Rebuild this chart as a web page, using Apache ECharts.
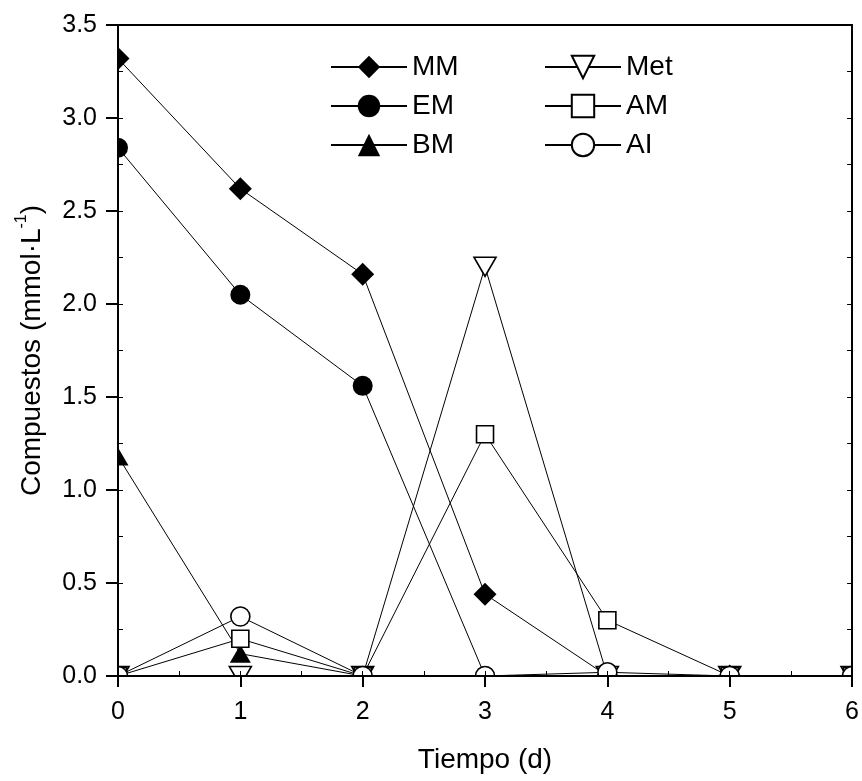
<!DOCTYPE html>
<html>
<head>
<meta charset="utf-8">
<script src="https://cdn.jsdelivr.net/npm/echarts@6/dist/echarts.min.js"></script>
<style>
  html, body { margin: 0; padding: 0; background: #fff; }
  #chart { width: 862px; height: 781px; }
</style>
</head>
<body>
<div id="chart"></div>
<script>
// Sampling days
var days = [0, 1, 2, 3, 4, 5, 6];

// Concentrations (mmol·L-1) per compound
var mm  = [3.32, 2.62, 2.16, 0.44, 0, 0, 0];
var em  = [2.84, 2.05, 1.56, 0, 0, 0, 0];
var bm  = [1.18, 0.12, 0, 0, 0, 0, 0];
var met = [0, 0, 0, 2.20, 0, 0, 0];
var am  = [0, 0.20, 0, 1.30, 0.30, 0, 0];
var ai  = [0, 0.32, 0, 0, 0.02, 0, 0];

var yTicks = ['0.0', '0.5', '1.0', '1.5', '2.0', '2.5', '3.0', '3.5'];

var FONT = 'Liberation Sans';

function pairs(vals) {
  return days.map(function (d, i) { return [d, vals[i]]; });
}

function series(name, vals, symbol, size, filled, rotate) {
  return {
    name: name,
    type: 'line',
    data: pairs(vals),
    xAxisIndex: 0,
    yAxisIndex: 0,
    z: 2,
    symbol: symbol,
    symbolSize: size,
    symbolRotate: rotate || 0,
    showAllSymbol: true,
    lineStyle: { color: '#000', width: 1 },
    itemStyle: filled
      ? { color: '#000', borderColor: '#000', borderWidth: 0 }
      : { color: '#fff', borderColor: '#000', borderWidth: 1.6 },
    emphasis: { disabled: true },
    animation: false
  };
}

var chart = echarts.init(document.getElementById('chart'));

var W = 862, H = 781;
var gridL = 118, gridR = 9, gridT = 25, gridB = 105;
var AXZ = 20; // frame, ticks and labels sit above the edge mask

var legendText = { fontFamily: FONT, fontSize: 28, lineHeight: 28, color: '#000' };

// white margins around the plot frame, so markers on the edges are trimmed
function frameMask(params) {
  var c = params.coordSys;
  return {
    type: 'group',
    children: [
      { type: 'rect', shape: { x: 0, y: 0, width: c.x, height: H }, style: { fill: '#fff' } },
      { type: 'rect', shape: { x: 0, y: c.y + c.height, width: W, height: H - c.y - c.height }, style: { fill: '#fff' } },
      { type: 'rect', shape: { x: 0, y: 0, width: W, height: c.y }, style: { fill: '#fff' } },
      { type: 'rect', shape: { x: c.x + c.width, y: 0, width: W - c.x - c.width, height: H }, style: { fill: '#fff' } }
    ]
  };
}

var option = {
  backgroundColor: '#fff',
  animation: false,
  grid: { left: gridL, right: gridR, top: gridT, bottom: gridB, show: false },
  legend: [
    {
      data: ['MM', 'EM', 'BM'],
      orient: 'vertical',
      left: 325, top: 48,
      itemWidth: 76, itemHeight: 28, itemGap: 11,
      textStyle: legendText,
      selectedMode: false
    },
    {
      data: ['Met', 'AM', 'AI'],
      orient: 'vertical',
      left: 539, top: 48,
      itemWidth: 76, itemHeight: 28, itemGap: 11,
      textStyle: legendText,
      selectedMode: false
    }
  ],
  xAxis: [
    {
      type: 'value', position: 'bottom', z: AXZ,
      min: 0, max: 6, interval: 1,
      name: 'Tiempo (d)', nameLocation: 'middle', nameGap: 70,
      nameTextStyle: { fontFamily: FONT, fontSize: 28, color: '#000' },
      axisLine: { show: true, onZero: false, lineStyle: { color: '#000', width: 2 } },
      axisTick: { show: true, inside: false, length: 11, lineStyle: { color: '#000', width: 2 } },
      axisLabel: { margin: 24, fontFamily: FONT, fontSize: 25, color: '#000' },
      splitLine: { show: false }
    },
    {
      type: 'value', position: 'bottom', z: AXZ,
      min: 0, max: 6, interval: 0.5,
      axisLine: { show: false, onZero: false },
      axisTick: { show: true, inside: true, length: 5, lineStyle: { color: '#000', width: 1 } },
      axisLabel: { show: false },
      splitLine: { show: false }
    },
    {
      type: 'value', position: 'top', z: AXZ,
      min: 0, max: 6, interval: 1,
      axisLine: { show: true, onZero: false, lineStyle: { color: '#000', width: 2 } },
      axisTick: { show: false },
      axisLabel: { show: false },
      splitLine: { show: false }
    }
  ],
  yAxis: [
    {
      type: 'value', position: 'left', z: AXZ,
      min: 0, max: 3.5, interval: 0.5,
      name: '{a|Compuestos (mmol·L}{s|-1}{a|)}',
      nameLocation: 'middle', nameGap: 72, nameRotate: 90,
      nameTextStyle: {
        fontFamily: FONT, fontSize: 28, color: '#000',
        rich: {
          a: { fontFamily: FONT, fontSize: 28, color: '#000', lineHeight: 32, verticalAlign: 'bottom' },
          s: { fontFamily: FONT, fontSize: 16, color: '#000', lineHeight: 32, verticalAlign: 'top' }
        }
      },
      axisLine: { show: true, onZero: false, lineStyle: { color: '#000', width: 2 } },
      axisTick: { show: true, inside: false, length: 12, lineStyle: { color: '#000', width: 2 } },
      axisLabel: {
        margin: 21, fontFamily: FONT, fontSize: 25, color: '#000',
        formatter: function (v) { return yTicks[Math.round(v / 0.5)]; }
      },
      splitLine: { show: false }
    },
    {
      type: 'value', position: 'left', z: AXZ,
      min: 0, max: 3.5, interval: 0.25,
      axisLine: { show: false, onZero: false },
      axisTick: { show: true, inside: true, length: 5, lineStyle: { color: '#000', width: 1 } },
      axisLabel: { show: false },
      splitLine: { show: false }
    },
    {
      type: 'value', position: 'right', z: AXZ,
      min: 0, max: 3.5, interval: 0.25,
      axisLine: { show: true, onZero: false, lineStyle: { color: '#000', width: 2 } },
      axisTick: { show: true, inside: true, length: 5, lineStyle: { color: '#000', width: 1 } },
      axisLabel: { show: false },
      splitLine: { show: false }
    }
  ],
  series: [
    series('MM', mm, 'diamond', 23, true),
    series('EM', em, 'circle', 20, true),
    series('BM', bm, 'triangle', [21, 18], true),
    series('Met', met, 'triangle', [22, 19], false, 180),
    series('AM', am, 'rect', 17, false),
    series('AI', ai, 'circle', 19, false),
    {
      // shares a legend name so legend filtering keeps it; the legend icon comes from the first 'MM' series
      name: 'MM',
      type: 'custom',
      z: 10,
      data: [[0, 0]],
      renderItem: frameMask
    }
  ]
};

chart.setOption(option);
</script>
</body>
</html>
